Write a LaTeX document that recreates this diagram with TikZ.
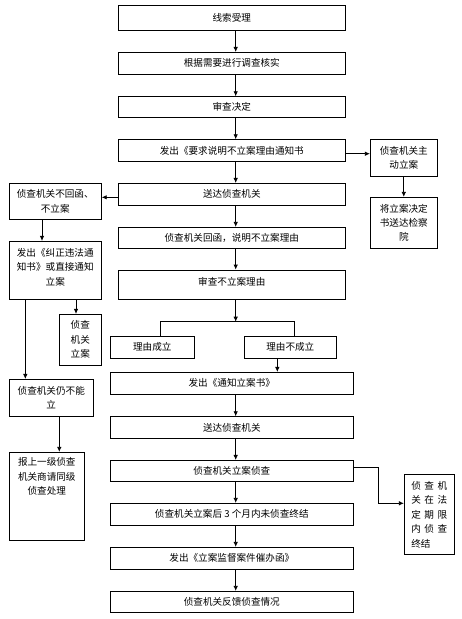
\documentclass[tikz,border=0pt]{standalone}
\usepackage{fontspec}
\setmainfont{Noto Sans CJK SC}
\usetikzlibrary{arrows.meta,calc}
\begin{document}
\begin{tikzpicture}[x=1pt,y=-1pt,
  box/.style={draw,line width=0.8pt,inner sep=0pt,align=center,font=\fontsize{9.6}{14.4}\selectfont},
  txt/.style={inner sep=0pt,align=center,font=\fontsize{9.6}{14.4}\selectfont},
  conn/.style={line width=0.8pt},
  arr/.style={line width=0.8pt,-{Latex[length=5pt,width=4.5pt]}}]
\useasboundingbox (0,0) rectangle (462,619);
% spine
\coordinate (sp) at (235.7,0);
% main column
\node[box,minimum width=227,minimum height=25] (b1) at (231.8,17.8) {线索受理};
\node[box,minimum width=227,minimum height=21.7] (b2) at (231.8,63.2) {根据需要进行调查核实};
\node[box,minimum width=227,minimum height=20.6] (b3) at (231.8,107) {审查决定};
\node[box,minimum width=227,minimum height=21.6] (b4) at (231.8,150.5) {发出《要求说明不立案理由通知书};
\node[box,minimum width=227,minimum height=21.7] (b5) at (231.8,194.2) {送达侦查机关};
\node[box,minimum width=227,minimum height=21] (b6) at (231.8,237.8) {侦查机关回函，说明不立案理由};
\node[box,minimum width=227,minimum height=29] (b7) at (231.8,284.5) {};
\node[txt] (b7t) at (231.8,281.5) {审查不立案理由};
\node[box,minimum width=84,minimum height=22.3] (r1) at (152.3,347.2) {理由成立};
\node[box,minimum width=92,minimum height=22.3] (r2) at (290.3,347.2) {理由不成立};
\node[box,minimum width=243,minimum height=21.7] (b8) at (231.8,383.2) {发出《通知立案书》};
\node[box,minimum width=243,minimum height=21.6] (b9) at (231.8,427.5) {送达侦查机关};
\node[box,minimum width=243,minimum height=20.7] (b10) at (231.8,470.7) {侦查机关立案侦查};
\node[box,minimum width=243,minimum height=22] (b11) at (231.8,514.3) {侦查机关立案后 3 个月内未侦查终结};
\node[box,minimum width=243,minimum height=22] (b12) at (231.8,558.3) {发出《立案监督案件催办函》};
\node[box,minimum width=243,minimum height=21] (b13) at (231.8,601.8) {侦查机关反馈侦查情况};
% left column
\node[box,minimum width=92,minimum height=36] (l1) at (55.3,201.3) {侦查机关不回函、\\不立案};
\node[box,minimum width=92,minimum height=57.7] (l2) at (55.3,270.2) {};
\node[txt] (l2t) at (55.3,267.2) {发出《纠正违法通\\知书》或直接通知\\立案};
\node[box,minimum width=42,minimum height=50.7] (l3) at (80.3,339.7) {侦查\\机关\\立案};
\node[box,minimum width=84,minimum height=36.7] (l4) at (51.3,397.7) {侦查机关仍不能\\立};
\node[box,minimum width=75,minimum height=88] (l5) at (46.8,496.3) {};
\node[txt,anchor=north] (l5t) at (46.8,457.5) {报上一级侦查\\机关商请同级\\侦查处理};
% right column
\node[box,minimum width=67,minimum height=36.7] (rr1) at (403.8,157.7) {侦查机关主\\动立案};
\node[box,minimum width=67,minimum height=51] (rr2) at (403.8,222.8) {将立案决定\\书送达检察\\院};
\node[box,minimum width=50,minimum height=80] (rr3) at (429.3,514.3) {};
\node[txt,align=left] (rr3t) at (429.3,514.6) {\makebox[36pt]{侦\hfill 查\hfill 机}\\\makebox[36pt]{关\hfill 在\hfill 法}\\\makebox[36pt]{定\hfill 期\hfill 限}\\\makebox[36pt]{内\hfill 侦\hfill 查}\\\makebox[36pt][l]{终结}};
% main spine arrows
\foreach \a/\b in {b1/b2,b2/b3,b3/b4,b4/b5,b5/b6,b6/b7,b8/b9,b9/b10,b10/b11,b11/b12,b12/b13}
  \draw[arr] (\a.south -| sp) -- (\b.north -| sp);
% branch
\coordinate (br) at (235.7,321.7);
\coordinate (brl) at (160.7,321.7);
\coordinate (brr) at (294.3,321.7);
\draw[arr] (b7.south -| sp) -- (br);
\draw[conn] (r1.north -| brl) -- (brl) -- (brr) -- (r2.north -| brr);
\coordinate (x2) at (277.3,0);
\draw[arr] (r2.south -| x2) -- (b8.north -| x2);
% right branch
\coordinate (y4) at (0,153.7);
\draw[arr] (b4.east |- y4) -- (rr1.west |- y4);
\draw[arr] (rr1.south) -- (rr2.north);
\coordinate (y10) at (0,467.3);
\coordinate (k1) at (378.3,467.3);
\coordinate (k2) at (378.3,503.3);
\draw[arr] (b10.east |- y10) -- (k1) -- (k2) -- (rr3.west |- k2);
% left branch
\coordinate (y5) at (0,197.3);
\draw[arr] (b5.west |- y5) -- (l1.east |- y5);
\coordinate (xl1) at (42,0);
\draw[arr] (l1.south -| xl1) -- (l2.north -| xl1);
\coordinate (xl2) at (76,0);
\draw[arr] (l2.south -| xl2) -- (l3.north -| xl2);
\coordinate (xl3) at (25.3,0);
\draw[arr] (l2.south -| xl3) -- (l4.north -| xl3);
\coordinate (xl4) at (59.3,0);
\draw[arr] (l4.south -| xl4) -- (l5.north -| xl4);
\end{tikzpicture}
\end{document}
